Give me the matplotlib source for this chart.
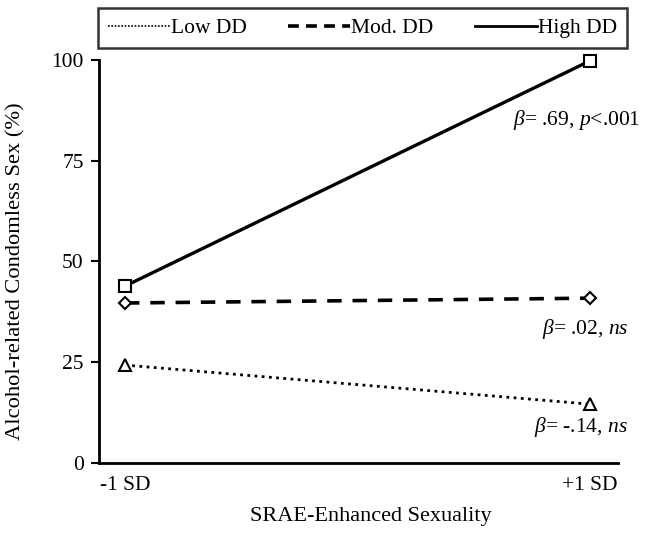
import matplotlib
matplotlib.use("Agg")
import matplotlib.pyplot as plt
from matplotlib.lines import Line2D

plt.rcParams['font.family'] = ['Liberation Serif', 'DejaVu Serif']
plt.rcParams['mathtext.fontset'] = 'custom'
plt.rcParams['mathtext.rm'] = 'Liberation Serif'
plt.rcParams['mathtext.it'] = 'Liberation Serif:italic'

# data
x_pos = [0, 1]
x_labels = ['-1 SD', '+1 SD']
low_dd = [24.3, 14.6]
mod_dd = [39.7, 40.9]
high_dd = [43.9, 99.8]
y_ticks = [0, 25, 50, 75, 100]

FS = 15.5

fig = plt.figure(figsize=(6.49, 5.39), dpi=100)
ax = fig.add_axes([0.1525, 0.141, 0.7997, 0.7477])

ax.plot(x_pos, low_dd, color='black', lw=2.0, ls=(0, (1, 1.6)),
        marker='^', ms=8, mfc='white', mec='black', mew=1.5, clip_on=False)
ax.plot(x_pos, mod_dd, color='black', lw=2.6, ls=(0, (4, 3)),
        marker='D', ms=6, mfc='white', mec='black', mew=1.5, clip_on=False)
ax.plot(x_pos, high_dd, color='black', lw=2.4, ls='-',
        marker='s', ms=9, mfc='white', mec='black', mew=1.5, clip_on=False)

ax.set_xlim(-0.056, 1.060)
ax.set_ylim(0, 100)
ax.set_yticks(y_ticks)
ax.set_xticks(x_pos)
ax.set_xticklabels(x_labels)
ax.tick_params(axis='x', length=0, pad=9, labelsize=FS)
ax.tick_params(axis='y', length=6, width=1.5, labelsize=FS, direction='out', pad=5)
for s in ['top', 'right']:
    ax.spines[s].set_visible(False)
for s in ['left', 'bottom']:
    ax.spines[s].set_linewidth(2)

ax.set_xlabel('SRAE-Enhanced Sexuality', fontsize=16)
ax.xaxis.set_label_coords(0.524, -0.108)
ax.set_ylabel('Alcohol-related Condomless Sex (%)', fontsize=16.2)
ax.yaxis.set_label_coords(-0.141, 0.476)

ax.text(1.108, 85.1, r'$\mathit{β}$= .69, $\mathit{p}$<.001', fontsize=FS,
        ha='right', va='center', clip_on=False)
ax.text(1.082, 33.2, r'$\mathit{β}$= .02, $\mathit{ns}$', fontsize=FS,
        ha='right', va='center', clip_on=False)
ax.text(1.082, 8.9, r'$\mathit{β}$= -.14, $\mathit{ns}$', fontsize=FS,
        ha='right', va='center', clip_on=False)

handles = [
    Line2D([], [], color='black', lw=1.2, ls=(0, (1, 1))),
    Line2D([], [], color='black', lw=2.6, ls=(0, (3, 2))),
    Line2D([], [], color='black', lw=2.0, ls='-'),
]
leg = fig.legend(handles, ['Low DD', 'Mod. DD', 'High DD'], ncol=3,
                 loc='center', bbox_to_anchor=(0.151, 0.911, 0.815, 0.074),
                 mode='expand', fontsize=FS, handlelength=2.9, handletextpad=0.05,
                 columnspacing=1.3, frameon=True, fancybox=False,
                 borderaxespad=0, borderpad=0.45)
leg.get_frame().set_edgecolor('black')
leg.get_frame().set_linewidth(1.8)

fig.savefig('out.png', dpi=100)
